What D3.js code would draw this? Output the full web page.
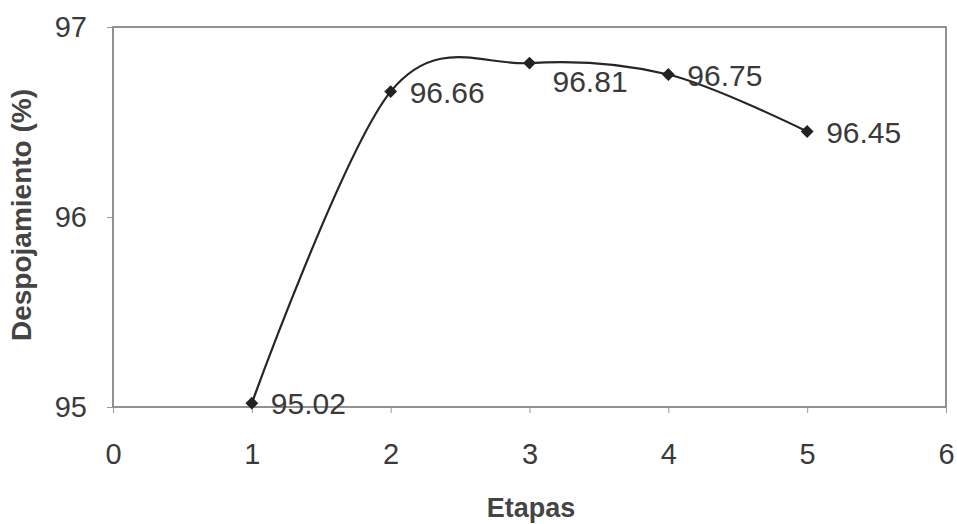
<!DOCTYPE html>
<html>
<head>
<meta charset="utf-8">
<script src="https://cdn.jsdelivr.net/npm/d3@7/dist/d3.min.js"></script>
<style>
  body { margin: 0; background: #fff; }
  text { font-family: Arial, "Liberation Sans", sans-serif; }
</style>
</head>
<body>
<div id="chart"></div>
<script>
const etapas = [1, 2, 3, 4, 5]
const despojamiento = [95.02, 96.66, 96.81, 96.75, 96.45]
const xTicks = [0, 1, 2, 3, 4, 5, 6]
const yTicks = [95, 96, 97]

const width = 957, height = 524
const plotLeft = 113, plotRight = 946, plotTop = 27, plotBottom = 407

const svg = d3.select('#chart')
  .append('svg')
  .attr('width', width)
  .attr('height', height)

const x = d3.scaleLinear().domain([0, 6]).range([plotLeft, plotRight])
const y = d3.scaleLinear().domain([95, 97]).range([plotBottom, plotTop])

// plot frame
svg.append('rect')
  .attr('x', plotLeft)
  .attr('y', plotTop)
  .attr('width', plotRight - plotLeft)
  .attr('height', plotBottom - plotTop)
  .attr('fill', 'none')
  .attr('stroke', '#6e6e6e')
  .attr('stroke-width', 1.5)

// axes
svg.append('g')
  .attr('transform', `translate(0, ${plotBottom})`)
  .call(d3.axisBottom(x).tickValues(xTicks).tickSize(6).tickPadding(30).tickFormat(d3.format('d')))
  .call(g => g.select('.domain').remove())
  .call(g => g.selectAll('line').attr('stroke', '#999'))
  .call(g => g.selectAll('text').attr('font-size', 29).attr('fill', '#3a3a3a'))

svg.append('g')
  .attr('transform', `translate(${plotLeft}, 0)`)
  .call(d3.axisLeft(y).tickValues(yTicks).tickSize(6).tickPadding(20).tickFormat(d3.format('d')))
  .call(g => g.select('.domain').remove())
  .call(g => g.selectAll('line').attr('stroke', '#999'))
  .call(g => g.selectAll('text').attr('font-size', 29).attr('fill', '#3a3a3a'))

// axis titles
svg.append('text')
  .attr('transform', `translate(31, 215) rotate(-90)`)
  .attr('text-anchor', 'middle')
  .attr('font-size', 28)
  .attr('font-weight', 'bold')
  .attr('fill', '#444')
  .text('Despojamiento (%)')

svg.append('text')
  .attr('x', 531)
  .attr('y', 517)
  .attr('text-anchor', 'middle')
  .attr('font-size', 27)
  .attr('font-weight', 'bold')
  .attr('fill', '#444')
  .text('Etapas')

const data = etapas.map((e, i) => ({ e: e, v: despojamiento[i] }))

// smoothed line (Excel-like)
const line = d3.line()
  .x(d => x(d.e))
  .y(d => y(d.v))
  .curve(d3.curveCardinal.tension(0))

svg.append('path')
  .datum(data)
  .attr('d', line)
  .attr('fill', 'none')
  .attr('stroke', '#262626')
  .attr('stroke-width', 2.2)

// markers
svg.selectAll('.pt')
  .data(data)
  .enter()
  .append('path')
  .attr('class', 'pt')
  .attr('transform', d => `translate(${x(d.e)}, ${y(d.v)})`)
  .attr('d', d3.symbol().type(d3.symbolDiamond2).size(105))
  .attr('fill', '#222')

// value labels (the peak label sits under the curve)
svg.selectAll('.lbl')
  .data(data)
  .enter()
  .append('text')
  .attr('class', 'lbl')
  .attr('x', (d, i) => x(d.e) + (i === 2 ? 23 : 19))
  .attr('y', (d, i) => y(d.v) + (i === 2 ? 29 : 11))
  .attr('font-size', 30)
  .attr('fill', '#3a3a3a')
  .text(d => d.v.toFixed(2))
</script>
</body>
</html>
